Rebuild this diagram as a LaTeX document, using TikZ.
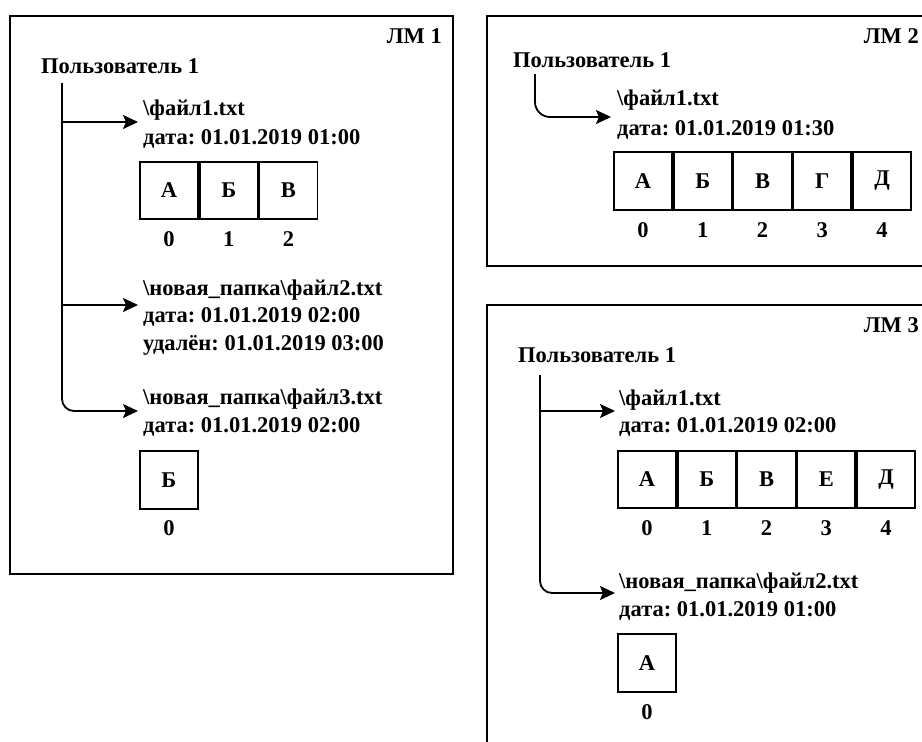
\documentclass[tikz,border=0pt]{standalone}
\usepackage{fontspec}
\setmainfont{Liberation Serif}
\usetikzlibrary{arrows.meta}
\frenchspacing
\tikzset{
  lbl/.style={font=\bfseries\fontsize{22.5}{26}\selectfont, inner sep=0pt},
  txt/.style={lbl, anchor=west},
  cell/.style={draw, line width=1.8pt, minimum width=58pt, minimum height=57pt, inner sep=0pt, font=\bfseries\fontsize{22.5}{26}\selectfont},
  frame/.style={draw, line width=2pt},
  conn/.style={line width=1.8pt, -{Stealth[length=15pt,width=14pt,inset=3pt]}},
}
\begin{document}
\begin{tikzpicture}[x=1pt,y=-1pt]
\clip (0,0) rectangle (922,742);
\fill[white] (0,0) rectangle (922,742);
% ---------- LM 1 ----------
\draw[frame] (10,16) rectangle (453,574);
\node[lbl, anchor=east] (lm1) at (442,36) {ЛМ 1};
\node[txt] (u1) at (41,66) {Пользователь 1};
\coordinate (u1s) at (62,83);
\node[txt] (f11a) at (143,110) {\textbackslash файл1.txt};
\node[txt] (f11b) at (143,139) {дата: 01.01.2019 01:00};
\node[cell, anchor=north west] (a10) at (139,161) {А};
\node[cell, anchor=west] (a11) at (a10.east) {Б};
\node[cell, anchor=west] (a12) at (a11.east) {В};
\node[lbl] (i10) at (a10.center |- 0,239) {0};
\node[lbl] (i11) at (a11.center |- 0,239) {1};
\node[lbl] (i12) at (a12.center |- 0,239) {2};
\node[txt] (f12a) at (143,290) {\textbackslash новая\_папка\textbackslash файл2.txt};
\node[txt] (f12b) at (143,317) {дата: 01.01.2019 02:00};
\node[txt] (f12c) at (143,345) {удалён: 01.01.2019 03:00};
\node[txt] (f13a) at (143,399) {\textbackslash новая\_папка\textbackslash файл3.txt};
\node[txt] (f13b) at (143,427) {дата: 01.01.2019 02:00};
\node[cell, anchor=north west, minimum height=58pt] (b10) at (139,450) {Б};
\node[lbl] (j10) at (b10.center |- 0,528) {0};
\coordinate (e11) at (138,122);
\coordinate (e12) at (138,305);
\coordinate (e13) at (138,411);
\draw[conn, rounded corners=12pt] (u1s) |- (e13);
\draw[conn] (u1s |- e11) -- (e11);
\draw[conn] (u1s |- e12) -- (e12);
% ---------- LM 2 ----------
\draw[frame] (487,16) rectangle (935,266);
\node[lbl, anchor=east] (lm2) at (919,36) {ЛМ 2};
\node[txt] (u2) at (513,60) {Пользователь 1};
\coordinate (u2s) at (535,74);
\coordinate (e21) at (611,117);
\draw[conn, rounded corners=15pt] (u2s) |- (e21);
\node[txt] (f21a) at (617,100) {\textbackslash файл1.txt};
\node[txt] (f21b) at (617,130) {дата: 01.01.2019 01:30};
\node[cell, anchor=north west, minimum height=58pt] (a20) at (613,151) {А};
\node[cell, anchor=west, minimum height=58pt] (a21) at (a20.east) {Б};
\node[cell, anchor=west, minimum height=58pt] (a22) at (a21.east) {В};
\node[cell, anchor=west, minimum height=58pt] (a23) at (a22.east) {Г};
\node[cell, anchor=west, minimum height=58pt] (a24) at (a23.east) {Д};
\node[lbl] (i20) at (a20.center |- 0,230) {0};
\node[lbl] (i21) at (a21.center |- 0,230) {1};
\node[lbl] (i22) at (a22.center |- 0,230) {2};
\node[lbl] (i23) at (a23.center |- 0,230) {3};
\node[lbl] (i24) at (a24.center |- 0,230) {4};
% ---------- LM 3 ----------
\draw[frame] (487,305) rectangle (935,760);
\node[lbl, anchor=east] (lm3) at (919,325) {ЛМ 3};
\node[txt] (u3) at (518,355) {Пользователь 1};
\coordinate (u3s) at (540,375);
\coordinate (e31) at (615,411);
\coordinate (e32) at (615,593);
\draw[conn, rounded corners=12pt] (u3s) |- (e32);
\draw[conn] (u3s |- e31) -- (e31);
\node[txt] (f31a) at (619,400) {\textbackslash файл1.txt};
\node[txt] (f31b) at (619,427) {дата: 01.01.2019 02:00};
\node[cell, anchor=north west] (a30) at (617,450) {А};
\node[cell, anchor=west] (a31) at (a30.east) {Б};
\node[cell, anchor=west] (a32) at (a31.east) {В};
\node[cell, anchor=west] (a33) at (a32.east) {Е};
\node[cell, anchor=west] (a34) at (a33.east) {Д};
\node[lbl] (i30) at (a30.center |- 0,528) {0};
\node[lbl] (i31) at (a31.center |- 0,528) {1};
\node[lbl] (i32) at (a32.center |- 0,528) {2};
\node[lbl] (i33) at (a33.center |- 0,528) {3};
\node[lbl] (i34) at (a34.center |- 0,528) {4};
\node[txt] (f32a) at (619,583) {\textbackslash новая\_папка\textbackslash файл2.txt};
\node[txt] (f32b) at (619,611) {дата: 01.01.2019 01:00};
\node[cell, anchor=north west, minimum height=58pt] (b30) at (617,633) {А};
\node[lbl] (j30) at (b30.center |- 0,712) {0};
\end{tikzpicture}
\end{document}
